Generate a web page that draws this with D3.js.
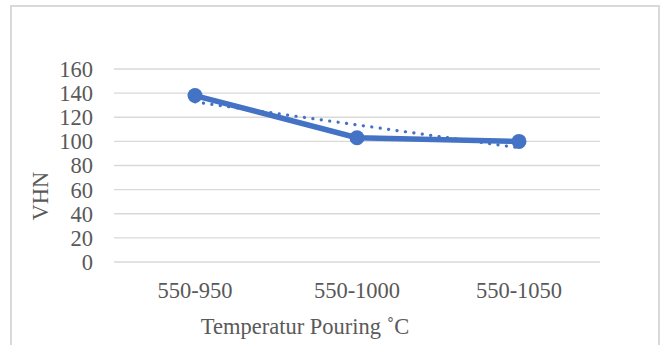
<!DOCTYPE html>
<html><head><meta charset="utf-8">
<script src="https://cdn.jsdelivr.net/npm/d3@7"></script>
<style>
html,body{margin:0;padding:0;background:#fff;}
svg{display:block;}
text{font-family:"Liberation Serif","Times New Roman",serif;fill:#595959;}
</style></head><body>
<svg id="c" width="662" height="345"></svg>
<script>
const categories = ["550-950", "550-1000", "550-1050"];
const vhnValues = [138, 103, 100];
const yTicks = [0, 20, 40, 60, 80, 100, 120, 140, 160];
const yTitle = "VHN";
const xTitle = "Temperatur Pouring ˚C";

const svg = d3.select("#c");
const plotL = 114, plotR = 600, plotT = 69, plotB = 262;
const fs = 22.5;

// chart border
svg.append("rect").attr("x", 11).attr("y", 6).attr("width", 648).attr("height", 360)
  .attr("fill", "none").attr("stroke", "#d9d9d9").attr("stroke-width", 2);

const x = d3.scaleBand().domain(categories).range([plotL, plotR]);
const y = d3.scaleLinear().domain([0, 160]).range([plotB, plotT]);

// gridlines
svg.append("g").selectAll("line").data(yTicks).join("line")
  .attr("x1", plotL).attr("x2", plotR)
  .attr("y1", d => y(d)).attr("y2", d => y(d))
  .attr("stroke", "#d9d9d9").attr("stroke-width", 1.3);

// y axis labels
const yAxis = d3.axisLeft(y).tickValues(yTicks).tickSize(0).tickPadding(0);
const gy = svg.append("g").attr("transform", "translate(93,0)").call(yAxis);
gy.select(".domain").remove();
gy.selectAll("text").attr("font-size", fs).attr("font-family", "Liberation Serif").attr("fill", "#595959").attr("dy", "0.33em");

// x axis labels
const xAxis = d3.axisBottom(x).tickSize(0).tickPadding(0);
const gx = svg.append("g").attr("transform", "translate(0,282)").call(xAxis);
gx.select(".domain").remove();
gx.selectAll("text").attr("font-size", fs).attr("font-family", "Liberation Serif").attr("fill", "#595959").attr("dy", "0.71em");

// titles
svg.append("text").attr("transform", "translate(48,196) rotate(-90)")
  .attr("text-anchor", "middle").attr("font-size", fs).text(yTitle);
svg.append("text").attr("x", 305).attr("y", 334)
  .attr("text-anchor", "middle").attr("font-size", fs).text(xTitle);

const cx = d => x(d) + x.bandwidth() / 2;
const pts = categories.map((c, i) => [cx(c), y(vhnValues[i])]);

// linear trendline (least squares over category index)
const n = vhnValues.length;
const xs = vhnValues.map((_, i) => i + 1);
const mx = d3.mean(xs), my = d3.mean(vhnValues);
const slope = d3.sum(xs.map((xi, i) => (xi - mx) * (vhnValues[i] - my))) / d3.sum(xs.map(xi => (xi - mx) ** 2));
const icpt = my - slope * mx;
const trend = [[cx(categories[0]), y(icpt + slope * 1)], [cx(categories[n - 1]), y(icpt + slope * n)]];

svg.append("path").attr("d", d3.line()(trend))
  .attr("fill", "none").attr("stroke", "#4472C4").attr("stroke-width", 3.2)
  .attr("stroke-linecap", "round").attr("stroke-dasharray", "0.1 8.4");

svg.append("path").attr("d", d3.line()(pts))
  .attr("fill", "none").attr("stroke", "#4472C4").attr("stroke-width", 5.5)
  .attr("stroke-linejoin", "round");

svg.append("g").selectAll("circle").data(pts).join("circle")
  .attr("cx", d => d[0]).attr("cy", d => d[1]).attr("r", 7.5)
  .attr("fill", "#4472C4");
</script>
</body></html>
